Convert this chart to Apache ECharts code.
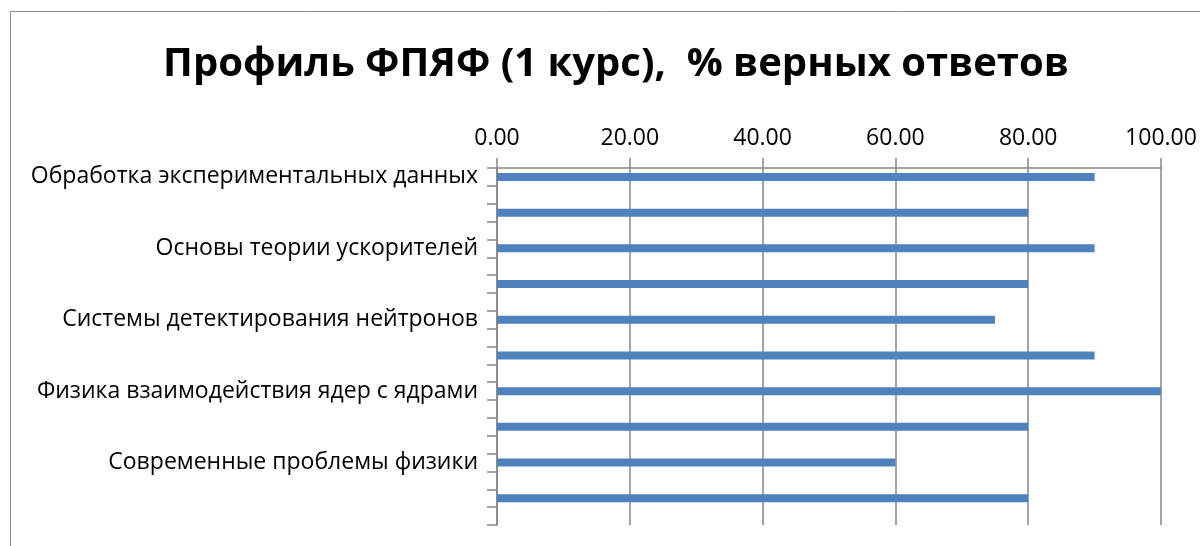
<!DOCTYPE html>
<html>
<head>
<meta charset="utf-8">
<script src="https://cdn.jsdelivr.net/npm/echarts@6/dist/echarts.min.js"></script>
<style>
html,body{margin:0;padding:0;background:#fff;}
#main{width:1200px;height:546px;}
</style>
</head>
<body>
<div id="main"></div>
<script>
// категории (подписаны только каждые 4-е, как в исходной диаграмме)
var categories = [
	'Обработка экспериментальных данных', '', '', '',
	'Основы теории ускорителей', '', '', '',
	'Системы детектирования нейтронов', '', '', '',
	'Физика взаимодействия ядер с ядрами', '', '', '',
	'Современные проблемы физики', '', '', ''
];
// % верных ответов (пустые позиции — без столбца)
var values = [90, '-', 80, '-', 90, '-', 80, '-', 75, '-', 90, '-', 100, '-', 80, '-', 60, '-', 80, '-'];
var xTicks = [0, 20, 40, 60, 80, 100];

var chart = echarts.init(document.getElementById('main'));
var option = {
	animation: false,
	backgroundColor: '#fff',
	title: {
		text: 'Профиль ФПЯФ (1 курс),  % верных ответов',
		left: 611,
		textAlign: 'center',
		top: 40,
		textStyle: {fontFamily: 'Open Sans', fontWeight: 'bold', fontSize: 40, color: '#000'}
	},
	graphic: [{
		type: 'rect',
		shape: {x: 10.5, y: 11.5, width: 1400, height: 800},
		style: {fill: 'none', stroke: '#8c8c8c', lineWidth: 1},
		silent: true
	}],
	grid: {left: 497, right: 39, top: 168, bottom: 21},
	xAxis: {
		type: 'value',
		position: 'top',
		min: xTicks[0],
		max: xTicks[xTicks.length - 1],
		interval: 20,
		axisLine: {show: true, lineStyle: {color: '#868686', width: 1.5}},
		axisTick: {show: true, length: 10, lineStyle: {color: '#868686', width: 1.5}},
		splitLine: {show: true, lineStyle: {color: '#868686', width: 1.5}},
		axisLabel: {
			fontFamily: 'Open Sans', fontSize: 23, color: '#000', margin: 18,
			formatter: function(v){ return v.toFixed(2); }
		}
	},
	yAxis: {
		type: 'category',
		data: categories,
		inverse: true,
		axisLine: {show: true, lineStyle: {color: '#868686', width: 1.5}},
		axisTick: {show: true, length: 10, interval: 0, lineStyle: {color: '#868686', width: 1.5}},
		axisLabel: {
			interval: 3, fontFamily: 'Open Sans', fontSize: 23, color: '#000', margin: 19
		}
	},
	series: [{
		type: 'bar',
		data: values,
		barWidth: 8,
		itemStyle: {color: '#4f81bd'}
	}]
};
chart.setOption(option);
</script>
</body>
</html>
